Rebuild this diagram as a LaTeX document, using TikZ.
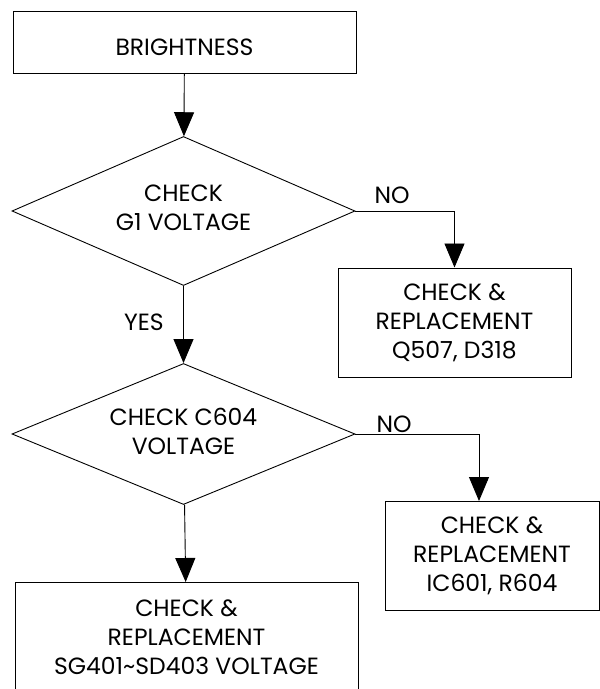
\documentclass[tikz,border=0pt]{standalone}
\usepackage{fontspec}
\setmainfont{Poppins}
\usetikzlibrary{shapes.geometric,arrows.meta}

\tikzset{
  box/.style={draw,line width=1pt,align=center,inner sep=0pt},
  test/.style={draw,diamond,line width=0.9pt,inner sep=0pt},
  arr/.style={-{Triangle[length=24pt,width=20pt]},line width=0.9pt}
}

\begin{document}
\begin{tikzpicture}[x=1pt,y=-1pt,font=\fontsize{23.5}{29}\selectfont]
  \useasboundingbox (0,0) rectangle (600,689);
  \clip (0,0) rectangle (600,689);
  \node[box,minimum width=343pt,minimum height=62pt,text height=26pt,text depth=0pt] (bright) at (184.5,42) {BRIGHTNESS};
  \node[test,minimum width=343pt,minimum height=149pt] (chkg) at (183.5,211) {};
  \node[align=center] (chkgtext) at (183.5,207.5) {CHECK\\G1 VOLTAGE};
  \node[test,minimum width=343pt,minimum height=141pt] (chkc) at (183.5,434) {};
  \node[align=center] (chkctext) at (183.5,431.5) {CHECK C604\\VOLTAGE};
  \node[box,minimum width=233pt,minimum height=109pt] (repq) at (454.5,322.5) {CHECK \&\\REPLACEMENT\\Q507, D318};
  \node[box,minimum width=214pt,minimum height=109pt] (repic) at (492,555.5) {CHECK \&\\REPLACEMENT\\IC601, R604};
  \node[box,minimum width=343pt,minimum height=110pt,anchor=north] (repsg) at (186.5,582) {CHECK \&\\REPLACEMENT\\SG401\textasciitilde SD403 VOLTAGE};
  \coordinate (ictop) at (479,501);
  \draw[arr] (bright) -- (chkg);
  \draw[arr] (chkg) -- (chkc);
  \draw[arr] (chkc) -- (repsg);
  \draw[arr] (chkg.east) -| (repq.north);
  \draw[arr] (chkc.east) -| (ictop);
  \node (yes) at (144,322) {YES};
  \node (nog) at (392,195) {NO};
  \node (noc) at (394,424) {NO};
\end{tikzpicture}
\end{document}
